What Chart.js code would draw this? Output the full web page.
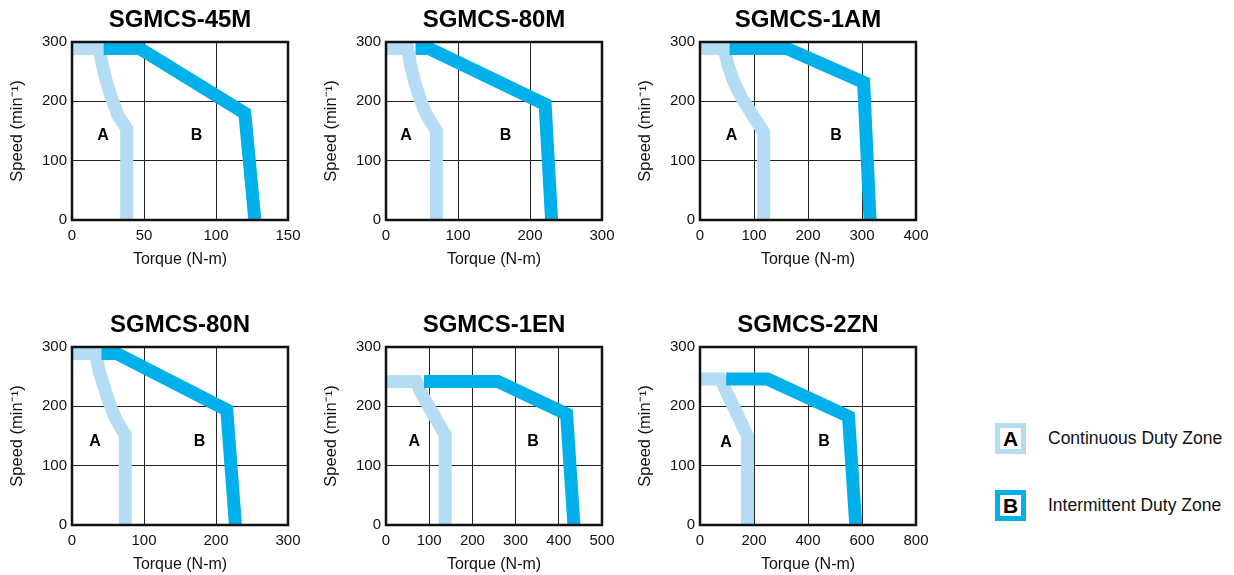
<!DOCTYPE html>
<html>
<head>
<meta charset="utf-8">
<script src="https://cdn.jsdelivr.net/npm/chart.js@4.4.1/dist/chart.umd.min.js"></script>
<style>
  body { margin: 0; background: #fff; width: 1234px; height: 575px; overflow: hidden; position: relative;
         font-family: "Liberation Sans", Arial, sans-serif; }
  .panel { position: absolute; width: 310px; height: 280px; }
  .key { position: absolute; left: 995px; display: flex; align-items: center; }
  .key .box { width: 21px; height: 21px; border: 5px solid; background: #fff; font-weight: bold; font-size: 21px;
              line-height: 21px; text-align: center; color: #000; }
  .key .txt { margin-left: 22px; font-size: 17.5px; color: #111; }
</style>
</head>
<body>
<div class="panel" style="left:0;top:0"><canvas id="c0" width="310" height="280"></canvas></div>
<div class="panel" style="left:314px;top:0"><canvas id="c1" width="310" height="280"></canvas></div>
<div class="panel" style="left:628px;top:0"><canvas id="c2" width="310" height="280"></canvas></div>
<div class="panel" style="left:0;top:305px"><canvas id="c3" width="310" height="280"></canvas></div>
<div class="panel" style="left:314px;top:305px"><canvas id="c4" width="310" height="280"></canvas></div>
<div class="panel" style="left:628px;top:305px"><canvas id="c5" width="310" height="280"></canvas></div>
<div id="legend"></div>
<script>
// models
const models = ['SGMCS-45M', 'SGMCS-80M', 'SGMCS-1AM', 'SGMCS-80N', 'SGMCS-1EN', 'SGMCS-2ZN'];

// torque axis ticks per model (N-m), speed ticks (min-1)
const torqueTicks45M = [0, 50, 100, 150];
const torqueTicks80M = [0, 100, 200, 300];
const torqueTicks1AM = [0, 100, 200, 300, 400];
const torqueTicks80N = [0, 100, 200, 300];
const torqueTicks1EN = [0, 100, 200, 300, 400, 500];
const torqueTicks2ZN = [0, 200, 400, 600, 800];
const speedTicks = [0, 100, 200, 300];

// zone A (continuous) - [torque, speed] along the middle of the band
const zoneA45M = [[0, 289], [19, 289], [21, 262], [24, 232], [28, 202], [32, 176], [38, 154], [38, 0]];
const zoneA80M = [[0, 289], [30, 289], [34, 262], [40, 232], [47, 205], [56, 178], [70, 150], [70, 0]];
const zoneA1AM = [[0, 289], [45, 289], [52, 260], [64, 230], [78, 205], [95, 180], [118, 148], [118, 0]];
const zoneA80N = [[0, 289], [33, 289], [37, 262], [44, 235], [52, 205], [61, 178], [74, 152], [74, 0]];
const zoneA1EN = [[0, 242], [70, 242], [82, 222], [99, 200], [117, 177], [137, 152], [137, 0]];
const zoneA2ZN = [[0, 246], [75, 246], [176, 150], [176, 0]];

// zone B (intermittent)
const zoneB45M = [[22, 289], [47, 289], [120, 180], [127, 0]];
const zoneB80M = [[41, 289], [60, 289], [221, 195], [230, 0]];
const zoneB1AM = [[55, 289], [161, 289], [303, 232], [315, 0]];
const zoneB80N = [[41, 289], [62, 289], [215, 194], [227, 0]];
const zoneB1EN = [[88, 242], [259, 242], [418, 187], [435, 0]];
const zoneB2ZN = [[97, 246], [250, 246], [550, 183], [577, 0]];

// where the A / B letters sit in each chart
const letterA = [[21.6, 143], [27.7, 143], [58.5, 143], [32, 141], [65.5, 141], [96, 139]];
const letterB = [[86.5, 143], [166, 143], [252, 143], [177, 141], [340.5, 141], [459, 140]];

const zoneLetters = ['A', 'B'];
const zoneNames = ['Continuous Duty Zone', 'Intermittent Duty Zone'];
const zoneColors = ['#b4dcf4', '#00b0eb'];

const torqueTicks = [torqueTicks45M, torqueTicks80M, torqueTicks1AM, torqueTicks80N, torqueTicks1EN, torqueTicks2ZN];
const zonesA = [zoneA45M, zoneA80M, zoneA1AM, zoneA80N, zoneA1EN, zoneA2ZN];
const zonesB = [zoneB45M, zoneB80M, zoneB1AM, zoneB80N, zoneB1EN, zoneB2ZN];

const FONT = '"Liberation Sans", Arial, Helvetica, sans-serif';
Chart.defaults.font.family = FONT;
Chart.defaults.color = '#111';

// frame + zone letters
const zoneMarks = {
  id: 'zoneMarks',
  afterDraw(chart, args, opts) {
    const { ctx, chartArea: a, scales: { x, y } } = chart;
    ctx.save();
    ctx.lineWidth = 2.5;
    ctx.strokeStyle = '#111';
    ctx.strokeRect(a.left, a.top, a.width, a.height);
    ctx.font = 'bold 16px ' + FONT;
    ctx.fillStyle = '#000';
    ctx.textAlign = 'center';
    ctx.textBaseline = 'middle';
    opts.marks.forEach(m => ctx.fillText(m.text, x.getPixelForValue(m.at[0]), y.getPixelForValue(m.at[1])));
    ctx.restore();
  }
};

function toPoints(arr) {
  return arr.map(p => ({ x: p[0], y: p[1] }));
}

function band(label, arr, color) {
  return {
    label: label,
    data: toPoints(arr),
    showLine: true,
    borderColor: color,
    backgroundColor: color,
    borderWidth: 13,
    borderJoinStyle: 'miter',
    borderCapStyle: 'butt',
    pointRadius: 0,
    fill: false,
    clip: 0
  };
}

models.forEach((name, i) => {
  const tt = torqueTicks[i];
  new Chart(document.getElementById('c' + i), {
    type: 'scatter',
    data: {
      // B first so it is painted over A
      datasets: [
        band(zoneNames[1], zonesB[i], zoneColors[1]),
        band(zoneNames[0], zonesA[i], zoneColors[0])
      ]
    },
    options: {
      responsive: false,
      animation: false,
      devicePixelRatio: 1,
      layout: { padding: { left: 0, right: 22, top: 0, bottom: 0 } },
      plugins: {
        legend: { display: false },
        tooltip: { enabled: false },
        title: {
          display: true,
          text: name,
          fullSize: false,
          color: '#000',
          font: { size: 24, weight: 'bold' },
          padding: { top: 6.4, bottom: 6.8 }
        },
        zoneMarks: {
          marks: [{ text: zoneLetters[0], at: letterA[i] }, { text: zoneLetters[1], at: letterB[i] }]
        }
      },
      scales: {
        x: {
          type: 'linear',
          min: tt[0],
          max: tt[tt.length - 1],
          z: 1,
          afterBuildTicks: s => { s.ticks = tt.map(v => ({ value: v })); },
          afterFit: s => { s.height = 60; },
          ticks: { padding: 7, font: { size: 15 }, color: '#111' },
          grid: { color: '#222', lineWidth: 1, drawTicks: false },
          border: { display: false },
          title: { display: true, text: 'Torque (N-m)', font: { size: 16 }, color: '#111', padding: { top: 0, bottom: 10.5 } }
        },
        y: {
          type: 'linear',
          min: 0,
          max: 300,
          z: 1,
          afterBuildTicks: s => { s.ticks = speedTicks.map(v => ({ value: v })); },
          afterFit: s => { s.width = 72; },
          ticks: { padding: 5, font: { size: 15 }, color: '#111' },
          grid: { color: '#222', lineWidth: 1, drawTicks: false },
          border: { display: false },
          title: { display: true, text: 'Speed (min⁻¹)', font: { size: 16.5 }, color: '#111', padding: { top: 8, bottom: 0 } }
        }
      }
    },
    plugins: [zoneMarks]
  });
});

// legend
const legendTops = [423, 490];
let html = '';
zoneLetters.forEach((l, k) => {
  html += `<div class="key" style="top:${legendTops[k]}px">
    <div class="box" style="border-color:${zoneColors[k]}">${l}</div>
    <div class="txt">${zoneNames[k]}</div>
  </div>`;
});
document.getElementById('legend').innerHTML = html;
</script>
</body>
</html>
